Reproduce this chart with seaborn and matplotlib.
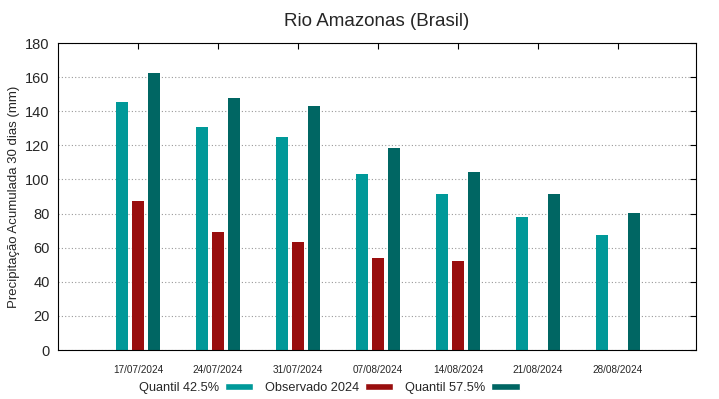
import numpy as np
import pandas as pd
import matplotlib
matplotlib.use("Agg")
import matplotlib.pyplot as plt
from matplotlib.patches import Patch
import seaborn as sns

# --- data ---
datas = ["17/07/2024", "24/07/2024", "31/07/2024", "07/08/2024",
         "14/08/2024", "21/08/2024", "28/08/2024"]
quantil_425 = [145.4, 130.8, 124.9, 103.2, 91.5, 77.8, 67.6]
observado = [87.3, 69.2, 63.3, 53.9, 52.2, np.nan, np.nan]
quantil_575 = [162.4, 147.8, 143.0, 118.5, 104.6, 91.5, 80.4]

series = ["Quantil 42.5%", "Observado 2024", "Quantil 57.5%"]
cores = ["#009999", "#990e0e", "#006663"]

df = pd.DataFrame({
    "data": datas * 3,
    "serie": np.repeat(series, len(datas)),
    "valor": quantil_425 + observado + quantil_575,
})

sns.set_style("white")
plt.rcParams["font.family"] = ["Liberation Sans", "DejaVu Sans"]

fig = plt.figure(figsize=(7.19, 3.99), dpi=100)
ax = fig.add_axes([0.0807, 0.1228, 0.8873, 0.7693])

sns.barplot(data=df, x="data", y="valor", hue="serie", order=datas,
            hue_order=series, palette=cores, width=0.6, gap=0.2,
            saturation=1, linewidth=0, legend=False, ax=ax)

ax.set_xlim(-1, 6.975)
ax.set_ylim(0, 180)
ax.set_yticks(range(0, 181, 20))
ax.yaxis.grid(True, linestyle=(0, (1, 2)), color="#999999", linewidth=0.8)
ax.set_axisbelow(True)
for s in ax.spines.values():
    s.set_visible(True)
    s.set_color("black")
    s.set_linewidth(0.8)

ax.tick_params(axis="both", direction="in", length=4, width=0.8,
               top=True, right=True, color="black")
ax.tick_params(axis="x", labelsize=7.2, pad=11)
ax.tick_params(axis="y", labelsize=10.5, pad=6)
ax.set_xlabel("")
ax.set_ylabel("Precipitação Acumulada 30 dias (mm)", fontsize=9.5, labelpad=4)
ax.set_title("Rio Amazonas (Brasil)", fontsize=13.5, pad=12)

handles = [Patch(facecolor=c, label=l) for c, l in zip(cores, series)]
fig.legend(handles=handles, loc="center", bbox_to_anchor=(0.4576, 0.0276),
           ncol=3, frameon=False, markerfirst=False, fontsize=9.2,
           handlelength=2.2, handleheight=0.45, handletextpad=0.5,
           columnspacing=0.9)

fig.savefig("out.png", dpi=100)
